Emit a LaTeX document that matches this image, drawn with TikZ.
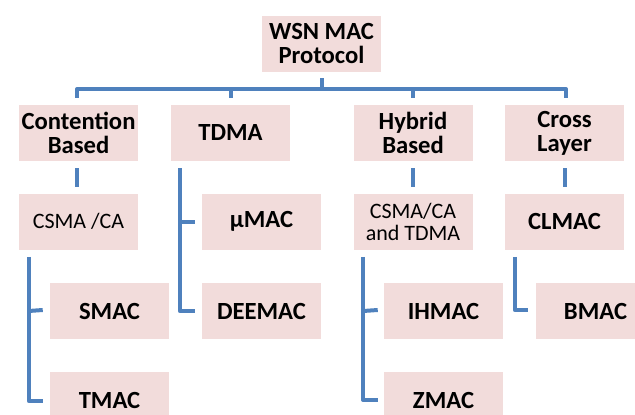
\documentclass[tikz,border=0pt]{standalone}
\usepackage{fontspec}
\setmainfont{Carlito}
\usetikzlibrary{calc}
\definecolor{boxpink}{RGB}{242,220,219}
\definecolor{lineblue}{RGB}{79,129,189}
\begin{document}
\begin{tikzpicture}[x=0.75pt,y=-0.75pt,
  box/.style={fill=boxpink,draw=none,minimum width=89.25pt,minimum height=42pt,inner sep=0pt,align=center,
    font=\fontsize{18.5}{18}\selectfont\bfseries},
  smallbox/.style={box,font=\fontsize{16.5}{16.5}\selectfont},
  link/.style={draw=lineblue,line width=3pt,line join=round}]
\useasboundingbox (0,0) rectangle (635,414);
\clip (0,0) rectangle (635,414);
% level 0
\node[box] (root) at (321.5,44) {WSN MAC\\Protocol};
% level 1
\node[box] (cont) at (78.5,133) {Contention\\Based};
\node[box] (tdma) at (230.5,133) {TDMA};
\node[box] (hyb) at (413,133) {Hybrid\\Based};
\node[box] (cross) at (564.5,133) {Cross\\Layer};
% level 2
\node[smallbox] (csma) at (78.5,221.5) {CSMA /CA};
\node[box] (mumac) at (261.5,221.5) {µMAC};
\node[smallbox] (csmatdma) at (413,221.5) {CSMA/CA\\and TDMA};
\node[box] (clmac) at (564.5,221.5) {CLMAC};
% level 3
\node[box] (smac) at (109.5,311) {SMAC};
\node[box] (deemac) at (261.5,311) {DEEMAC};
\node[box] (ihmac) at (443.5,311) {IHMAC};
\node[box] (bmac) at (595.5,311) {BMAC};
% level 4
\node[box] (tmac) at (109.5,400) {TMAC};
\node[box] (zmac) at (443.5,400) {ZMAC};
% top tree
\coordinate (bar) at ($(root.south)+(0,17)$);
\draw[link] ($(root.south)+(0,6)$) -- (bar);
\draw[link] ($(cont.north)+(-1.5,-7)$) |- (bar) -| ($(cross.north)+(1.5,-7)$);
\draw[link] ($(tdma.north)+(0,-7)$) -- ($(tdma.north)+(0,-16)$);
\draw[link] ($(hyb.north)+(0,-7)$) -- ($(hyb.north)+(0,-16)$);
% contention -> csma
\draw[link] ($(cont.south)+(-1.5,7)$) -- ($(csma.north)+(-1.5,-6)$);
% hybrid -> csma/tdma
\draw[link] ($(hyb.south)+(0,7)$) -- ($(csmatdma.north)+(0,-6)$);
% cross -> clmac
\draw[link] ($(cross.south)+(0,7)$) -- ($(clmac.north)+(0,-6)$);
% tdma list
\coordinate (tl) at ($(tdma.south west)+(9,7)$);
\draw[link] (tl) |- ($(deemac.west)+(-7,0)$);
\draw[link] ($(mumac.west)+(-7,0)$) -- (tl |- mumac.west);
% csma list
\coordinate (cl) at ($(csma.south west)+(10,7)$);
\draw[link] (cl) |- ($(tmac.west)+(-7,1)$);
\draw[link] ($(smac.west)+(-7,-1)$) -- (cl |- smac.west);
% hybrid list
\coordinate (hl) at ($(csmatdma.south west)+(10,7)$);
\draw[link] (hl) |- ($(zmac.west)+(-6,0)$);
\draw[link] ($(ihmac.west)+(-6,-1)$) -- (hl |- ihmac.west);
% cross list
\coordinate (xl) at ($(clmac.south west)+(10,7)$);
\draw[link] (xl) |- ($(bmac.west)+(-8,-1)$);
\end{tikzpicture}
\end{document}
